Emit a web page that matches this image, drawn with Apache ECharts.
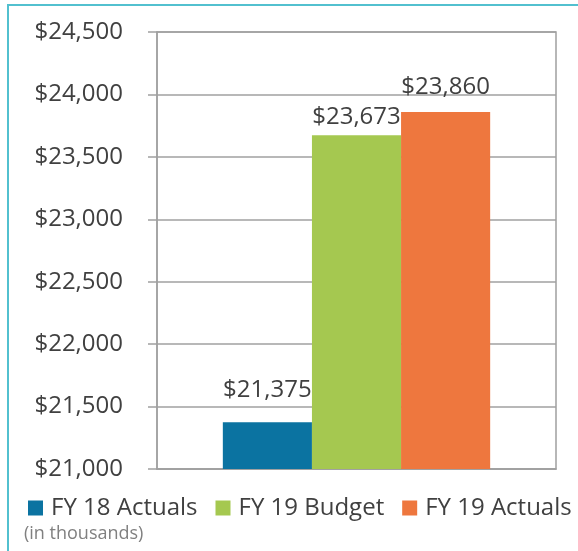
<!DOCTYPE html>
<html>
<head>
<meta charset="utf-8">
<script src="https://cdn.jsdelivr.net/npm/echarts@6/dist/echarts.min.js"></script>
<style>
  html, body { margin: 0; padding: 0; background: #fff; }
  #chart { width: 578px; height: 551px; }
</style>
</head>
<body>
<div id="chart"></div>
<script>
// data
var categories = ['FY'];
var seriesNames = ['FY 18 Actuals', 'FY 19 Budget', 'FY 19 Actuals'];
var seriesValues = [21375, 23673, 23860];
var seriesColors = ['#0b73a1', '#a5c850', '#ee773e'];
var labelDistances = [20, 6, 13];
var yMin = 21000, yMax = 24500, yStep = 500;

function money(v) {
    return '$' + Number(v).toLocaleString('en-US');
}

var font = '"Open Sans", sans-serif';
var gray = '#a0a0a0';

var myChart = echarts.init(document.getElementById('chart'));

var series = seriesNames.map(function (name, i) {
    return {
        name: name,
        type: 'bar',
        data: [seriesValues[i]],
        barGap: '0%',
        barCategoryGap: '33%',
        itemStyle: { color: seriesColors[i] },
        label: {
            show: true,
            position: 'top',
            distance: labelDistances[i],
            fontFamily: font,
            fontSize: 24,
            color: '#404040',
            formatter: function (p) { return money(p.value); }
        }
    };
});

var option = {
    animation: false,
    backgroundColor: '#fff',
    grid: {
        left: 157, right: 22, top: 32, bottom: 82,
        show: true,
        borderColor: gray,
        borderWidth: 1.5,
        backgroundColor: 'transparent'
    },
    legend: {
        data: seriesNames,
        left: 28,
        top: 496,
        padding: 0,
        itemWidth: 15,
        itemHeight: 15,
        itemGap: 18,
        icon: 'rect',
        textStyle: { fontFamily: font, fontSize: 24, color: '#404040', padding: [0, 0, 0, 3] }
    },
    xAxis: {
        type: 'category',
        data: categories,
        axisLine: { show: true, lineStyle: { color: gray, width: 1.5 } },
        axisTick: { show: false },
        axisLabel: { show: false },
        splitLine: { show: false }
    },
    yAxis: {
        type: 'value',
        min: yMin,
        max: yMax,
        interval: yStep,
        axisLine: { show: true, lineStyle: { color: gray, width: 1.5 } },
        axisTick: { show: true, length: 9, lineStyle: { color: gray, width: 1.5 } },
        axisLabel: {
            margin: 34,
            fontFamily: font,
            fontSize: 24,
            color: '#404040',
            formatter: function (v) { return money(v); }
        },
        splitLine: { show: true, lineStyle: { color: gray, width: 1.5 } }
    },
    graphic: [
        {
            type: 'rect',
            shape: { x: 8, y: 5, width: 620, height: 620 },
            style: { fill: 'none', stroke: '#52c0cf', lineWidth: 2 },
            silent: true
        },
        {
            type: 'text',
            left: 24,
            top: 525,
            style: { text: '(in thousands)', fontFamily: font, fontSize: 18, fill: '#808080' }
        }
    ],
    series: series
};

myChart.setOption(option);
</script>
</body>
</html>
